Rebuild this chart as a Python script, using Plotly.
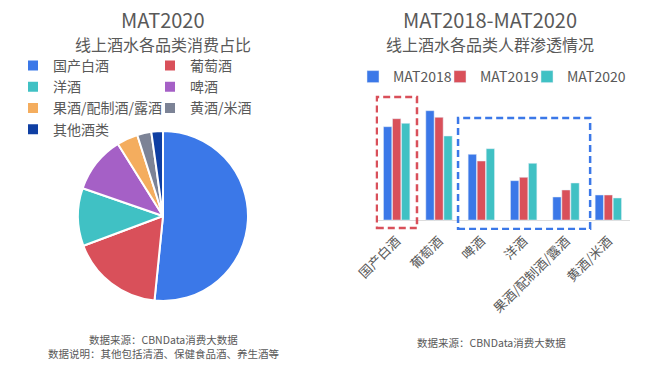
import plotly.graph_objects as go

# ---------------- data ----------------
pie_labels = ["国产白酒", "葡萄酒", "洋酒", "啤酒", "果酒/配制酒/露酒", "黄酒/米酒", "其他酒类"]
pie_values = [51.6, 17.7, 11.0, 10.8, 4.0, 2.7, 2.2]
pie_colors = ["#3b78e8", "#d9505a", "#40c1c4", "#a560c6", "#f4ad5e", "#7c8396", "#0f3fa3"]

bar_categories = ["国产白酒", "葡萄酒", "啤酒", "洋酒", "果酒/配制酒/露酒", "黄酒/米酒"]
bar_series = ["MAT2018", "MAT2019", "MAT2020"]
mat2018 = [28.0, 32.8, 19.7, 11.8, 6.9, 7.5]
mat2019 = [30.4, 30.8, 17.7, 12.8, 9.0, 7.5]
mat2020 = [29.0, 25.2, 21.4, 17.0, 11.1, 6.6]
bar_values = [mat2018, mat2019, mat2020]
bar_colors = ["#3b78e8", "#d9505a", "#40c1c4"]

W, H = 649, 367
ML, MR, MT, MB = 16, 10, 10, 10
GW, GH = W - ML - MR, H - MT - MB


def fx(px):
    return (px - ML) / GW


def fy(py):
    return 1 - (py - MT) / GH


FONT = "Noto Sans CJK SC"
GREY = "#595959"

fig = go.Figure()

fig.add_trace(go.Pie(
    labels=pie_labels, values=pie_values, sort=False, direction="clockwise",
    rotation=0, textinfo="none", hoverinfo="label+percent",
    marker=dict(colors=pie_colors, line=dict(color="white", width=2)),
    domain=dict(x=[fx(78), fx(248)], y=[fy(301), fy(131)]),
    legend="legend",
))

for name, vals, col in zip(bar_series, bar_values, bar_colors):
    fig.add_trace(go.Bar(
        x=bar_categories, y=vals, name=name, marker_color=col,
        xaxis="x", yaxis="y", legend="legend2",
    ))
# legend-only invisible spacer entry so the last legend label is not clipped
fig.add_trace(go.Bar(x=bar_categories, y=mat2020, name=" ", visible="legendonly",
                     marker=dict(color="rgba(0,0,0,0)", line=dict(width=0)),
                     xaxis="x", yaxis="y", legend="legend2", hoverinfo="skip"))

fig.update_layout(
    width=W, height=H,
    margin=dict(l=ML, r=MR, t=MT, b=MB, autoexpand=False),
    paper_bgcolor="white", plot_bgcolor="white",
    font=dict(family=FONT, color=GREY, size=13),
    barmode="group", bargap=0.36, bargroupgap=0.08,
    showlegend=True,
    legend=dict(
        orientation="h", x=-3 / GW, xanchor="left", y=fy(50), yanchor="top",
        entrywidth=92, entrywidthmode="pixels", font=dict(size=14, color=GREY),
        tracegroupgap=0, itemclick=False, bgcolor="rgba(0,0,0,0)",
    ),
    legend2=dict(
        orientation="h", x=fx(353), xanchor="left", y=fy(61), yanchor="top",
        entrywidth=42, entrywidthmode="pixels",
        font=dict(size=14, color=GREY), bgcolor="rgba(0,0,0,0)",
        itemclick=False, itemdoubleclick=False,
    ),
    xaxis=dict(
        domain=[fx(375.5), fx(629.5)], anchor="y", type="category",
        tickangle=-45, tickfont=dict(size=13, color=GREY),
        showline=False, ticks="", showgrid=False, range=[-0.5, 5.5],
    ),
    yaxis=dict(
        domain=[fy(230), fy(86.7)], anchor="x", range=[-3, 40],
        showticklabels=False, ticks="", showgrid=False, showline=False,
        zeroline=True, zerolinecolor="#dcdcdc", zerolinewidth=1,
    ),
)

# dashed highlight boxes
fig.add_shape(type="rect", xref="x", yref="y", x0=-0.47, x1=0.48, y0=-2.4, y1=36.9,
              line=dict(color="#d9505a", width=2.5, dash="7px,4px"), fillcolor="rgba(0,0,0,0)")
fig.add_shape(type="rect", xref="x", yref="y", x0=1.45, x1=4.57, y0=-2.7, y1=30.6,
              line=dict(color="#3b78e8", width=2.5, dash="7px,4px"), fillcolor="rgba(0,0,0,0)")

# titles and notes
annos = [
    (163, 20, "MAT2020", 20),
    (163, 44, "线上酒水各品类消费占比", 16),
    (490, 20, "MAT2018-MAT2020", 20),
    (490, 44, "线上酒水各品类人群渗透情况", 16),
    (163, 339, "数据来源：CBNData消费大数据", 10.5),
    (163, 353, "数据说明：其他包括清酒、保健食品酒、养生酒等", 10.5),
    (491, 342, "数据来源：CBNData消费大数据", 10.5),
]
for x, y, t, s in annos:
    fig.add_annotation(x=fx(x), y=fy(y), xref="paper", yref="paper", text=t,
                       showarrow=False, xanchor="center", yanchor="middle",
                       font=dict(size=s, color=GREY, family=FONT))

fig.write_html("out.html", config={"displayModeBar": False},
               post_script="document.body.style.margin='0';")
